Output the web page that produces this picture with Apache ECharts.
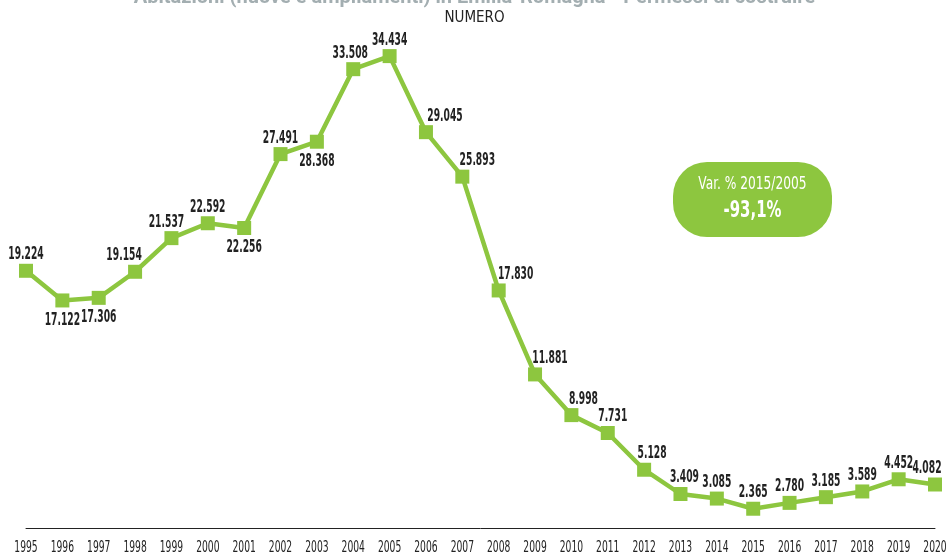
<!DOCTYPE html>
<html>
<head>
<meta charset="utf-8">
<script src="https://cdn.jsdelivr.net/npm/echarts@6/dist/echarts.min.js"></script>
<style>
  html, body { margin: 0; padding: 0; background: #fff; }
  #chart { width: 949px; height: 556px; }
</style>
</head>
<body>
<div id="chart"></div>
<script>
// dati
var anni = ['1995', '1996', '1997', '1998', '1999', '2000', '2001', '2002', '2003', '2004',
  '2005', '2006', '2007', '2008', '2009', '2010', '2011', '2012', '2013', '2014',
  '2015', '2016', '2017', '2018', '2019', '2020'];
var permessi = [19224, 17122, 17306, 19154, 21537, 22592, 22256, 27491, 28368, 33508,
  34434, 29045, 25893, 17830, 11881, 8998, 7731, 5128, 3409, 3085,
  2365, 2780, 3185, 3589, 4452, 4082];
// posizione etichette: 't' sopra, 'b' sotto, con spostamento orizzontale
var posEtichette = ['t', 'b', 'b', 't', 't', 't', 'b', 't', 'b', 't',
  't', 't', 't', 't', 't', 't', 't', 't', 't', 't',
  't', 't', 't', 't', 't', 't'];
var spostX = [0, 0, 0, -11, -5, 0, 0, 0, 0, -3,
  0, 19, 15, 17, 15, 12, 5, 8, 4, 0,
  0, 0, 0, 0, 0, -8];

var verde = '#8dc63f';
var font = '"DejaVu Sans Condensed", "DejaVu Sans", sans-serif';

function fmt(v) {
  return String(v).replace(/\B(?=(\d{3})+(?!\d))/g, '.');
}

var chart = echarts.init(document.getElementById('chart'));

chart.setOption({
  animation: false,
  title: [{
    text: 'Abitazioni (nuove e ampliamenti) in Emilia-Romagna - Permessi di costruire',
    left: 'center',
    top: -17,
    textStyle: { color: '#a3aeb1', fontFamily: 'Roboto', fontWeight: 'bold', fontSize: 20 }
  }, {
    text: 'NUMERO',
    left: 'center',
    top: 6,
    textStyle: { color: '#222', fontFamily: font, fontWeight: 'normal', fontSize: 15 }
  }],
  grid: {
    left: 26,
    right: 14,
    top: 34,
    bottom: 28,
    containLabel: false
  },
  xAxis: {
    type: 'category',
    boundaryGap: false,
    data: anni,
    axisLine: { lineStyle: { color: '#222', width: 1 } },
    axisTick: { show: false },
    axisLabel: { show: false }
  },
  yAxis: {
    type: 'value',
    min: 1000,
    max: 36000,
    show: false,
    splitLine: { show: false }
  },
  series: [{
    type: 'line',
    data: permessi,
    symbol: 'rect',
    symbolSize: 14,
    lineStyle: { color: verde, width: 4.5 },
    itemStyle: { color: verde },
    label: { show: false }
  }]
});

// etichette dei valori, in carattere stretto, posizionate con la scala del grafico
var etichette = permessi.map(function (v, i) {
  var p = chart.convertToPixel({ seriesIndex: 0 }, [i, v]);
  var sopra = posEtichette[i] === 't';
  return {
    type: 'text',
    x: p[0] + spostX[i],
    y: p[1] + (sopra ? -16 : 20),
    scaleX: 0.6,
    z: 10,
    style: {
      text: fmt(v),
      fill: '#222',
      font: 'bold 17px ' + font,
      align: 'center',
      verticalAlign: 'middle'
    }
  };
});

// etichette dell'asse x (anni), stesso carattere stretto
var etichetteAnni = anni.map(function (a) {
  var x = chart.convertToPixel({ xAxisIndex: 0 }, a);
  return {
    type: 'text',
    x: x,
    y: 548,
    scaleX: 0.68,
    style: {
      text: a,
      fill: '#222',
      font: '15px ' + font,
      align: 'center',
      verticalAlign: 'middle'
    }
  };
});

var riquadro = {
  type: 'group',
  left: 673,
  top: 162,
  children: [{
    type: 'rect',
    shape: { x: 0, y: 0, width: 159, height: 75, r: 34 },
    style: { fill: verde }
  }, {
    type: 'text',
    x: 79.5,
    y: 23,
    scaleX: 0.8,
    style: {
      text: 'Var. % 2015/2005',
      fill: '#fff',
      font: '17px ' + font,
      align: 'center',
      verticalAlign: 'middle'
    }
  }, {
    type: 'text',
    x: 79.5,
    y: 49,
    scaleX: 0.72,
    style: {
      text: '-93,1%',
      fill: '#fff',
      font: 'bold 23px ' + font,
      align: 'center',
      verticalAlign: 'middle'
    }
  }]
};

chart.setOption({ graphic: [riquadro].concat(etichette, etichetteAnni) });
</script>
</body>
</html>
